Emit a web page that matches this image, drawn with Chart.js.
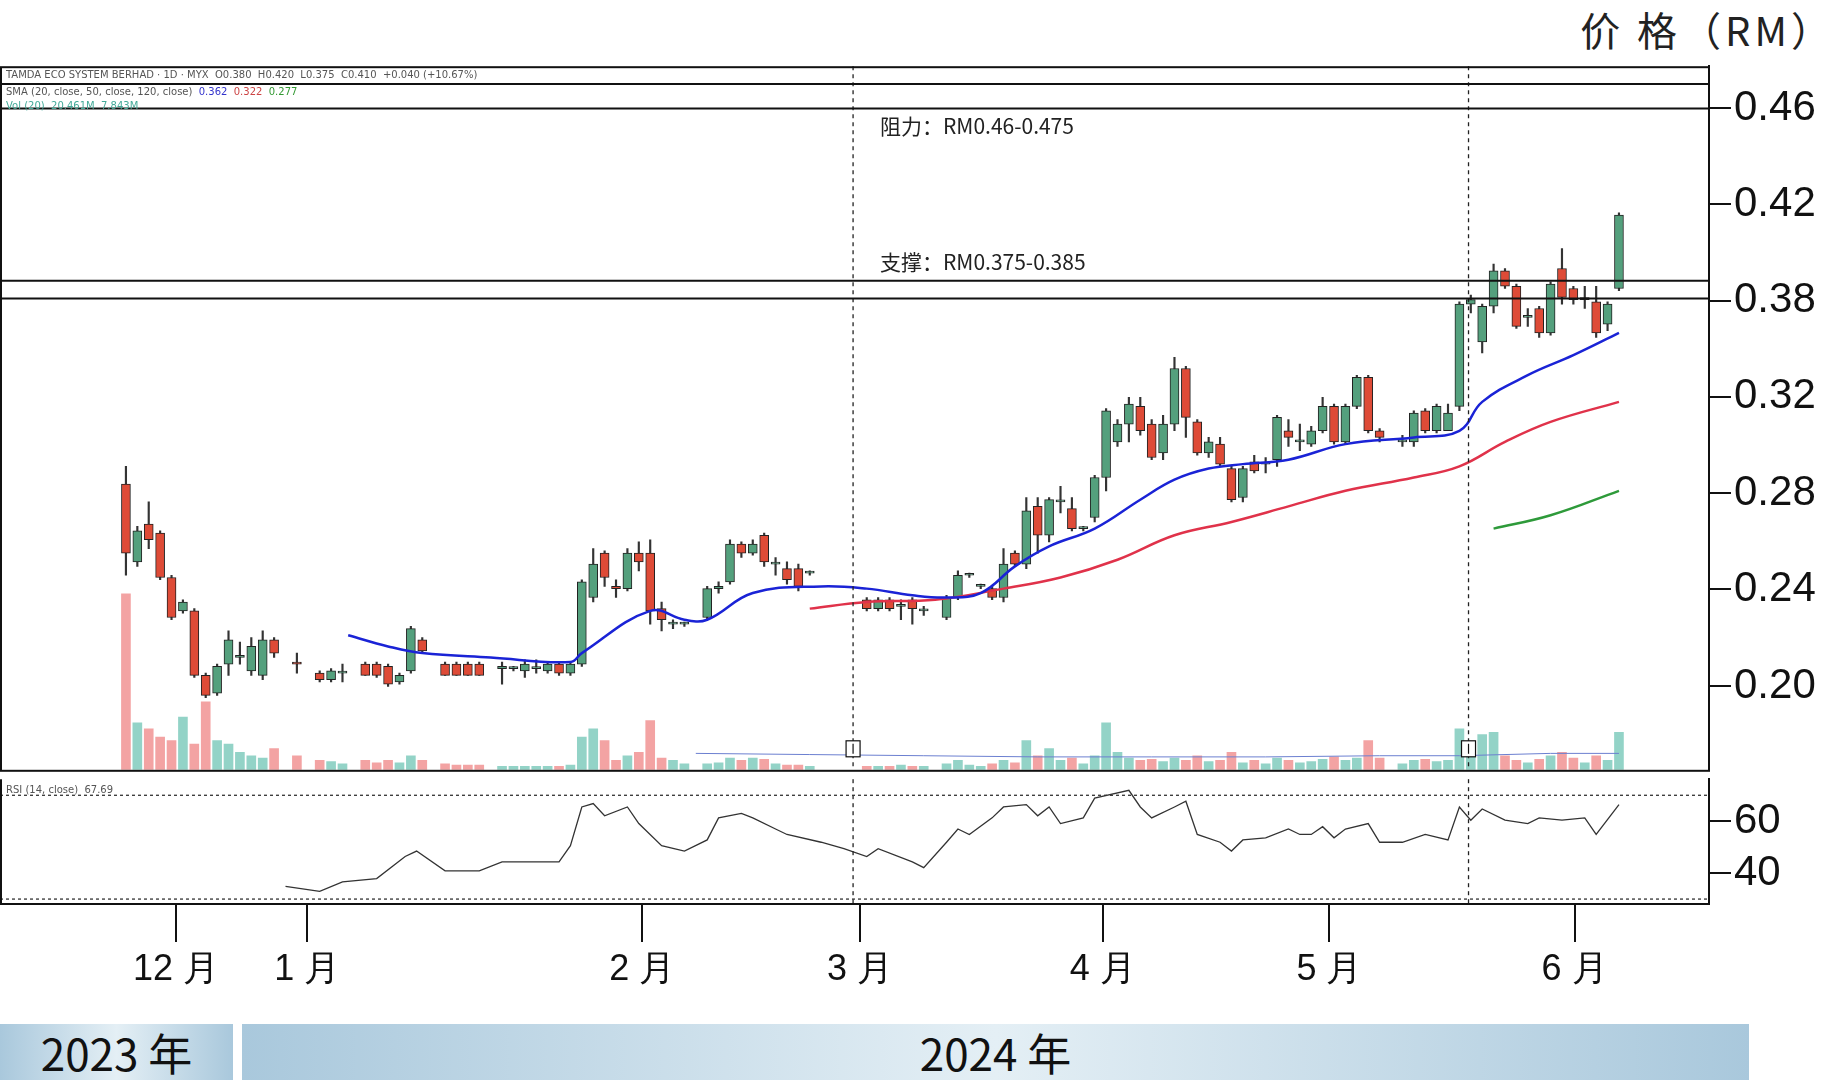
<!DOCTYPE html>
<html lang="zh">
<head>
<meta charset="UTF-8" />
<title>价格走势</title>
<script src="https://cdn.jsdelivr.net/npm/chart.js"></script>
<style>
  body { margin: 0; background: white; width: 1845px; height: 1080px; overflow: hidden; position: relative; font-family: "Noto Sans CJK SC", "Noto Sans", sans-serif; }
  #priceBox { position: absolute; left: 0; top: 38px; width: 1845px; height: 760px; }
  #rsiBox { position: absolute; left: 0; top: 751px; width: 1845px; height: 260px; }
  .unit { position: absolute; right: 10px; top: 0; font-size: 40px; color: #222; letter-spacing: 4px; }
  .year { position: absolute; top: 1024px; height: 56px; font-size: 44px; color: #111; text-align: center; line-height: 56px;
          background: linear-gradient(90deg, #a9c8dc, #e4eff5 50%, #a9c8dc); }
  .hdr { position: absolute; left: 6px; font-size: 10px; color: #555; white-space: nowrap; font-family: "DejaVu Sans", sans-serif; }
</style>
</head>
<body>
<div class="unit">价 格（RM）</div>
<div id="priceBox"><canvas id="price"></canvas></div>
<div id="rsiBox"><canvas id="rsi"></canvas></div>
<div class="hdr" style="top:69px">TAMDA ECO SYSTEM BERHAD · 1D · MYX &nbsp;O0.380 &nbsp;H0.420 &nbsp;L0.375 &nbsp;C0.410 &nbsp;+0.040 (+10.67%)</div>
<div class="hdr" style="top:86px">SMA (20, close, 50, close, 120, close) &nbsp;<span style="color:#33c">0.362</span> &nbsp;<span style="color:#c44">0.322</span> &nbsp;<span style="color:#393">0.277</span></div>
<div class="hdr" style="top:100px;color:#4a9">Vol (20) &nbsp;20.461M &nbsp;7.843M</div>
<div class="year" style="left:0;width:233px">2023 年</div>
<div class="year" style="left:242px;width:1507px">2024 年</div>

<script>
// ---- data ----
const slots = [0,1,2,3,4,5,6,7,8,9,10,11,12,13,15,17,18,19,21,22,23,24,25,26,28,29,30,31,33,34,35,36,37,38,39,
  40,41,42,43,44,45,46,47,48,49,51,52,53,54,55,56,57,58,59,60,65,66,67,68,69,70,72,73,74,75,76,77,78,79,80,81,82,83,84,
  85,86,87,88,89,90,91,92,93,94,95,96,97,98,99,100,101,102,103,104,105,106,107,108,109,110,112,113,114,115,116,
  117,118,119,120,121,122,123,124,125,126,127,128,129,130,131];
const opens = [.291,.256,.273,.269,.249,.234,.234,.205,.197,.210,.213,.207,.205,.221,.211,.206,.203,.206,.210,.210,.209,.202,.207,.221,.210,.210,.210,.210,.208,.208,.207,.208,.207,.210,.206,
  .210,.240,.260,.245,.244,.260,.260,.235,.228,.228,.231,.244,.247,.264,.260,.268,.255,.253,.253,.251,.239,.235,.239,.236,.239,.234,.231,.240,.250,.245,.244,.240,.260,.255,.281,.268,.283,.280,.271,
  .276,.294,.310,.318,.326,.318,.305,.318,.343,.319,.305,.309,.298,.285,.301,.300,.302,.315,.310,.309,.315,.326,.310,.326,.339,.315,.310,.310,.324,.315,.315,
  .326,.372,.355,.371,.387,.380,.366,.370,.359,.388,.379,.374,.373,.363,.379];
const closes = [.260,.270,.266,.249,.231,.238,.205,.196,.209,.221,.214,.218,.221,.215,.210,.203,.207,.206,.205,.205,.201,.205,.226,.216,.205,.205,.205,.205,.209,.208,.210,.208,.210,.206,.210,
  .247,.255,.249,.244,.260,.256,.234,.230,.228,.228,.244,.245,.264,.260,.264,.256,.255,.248,.245,.251,.235,.239,.235,.236,.235,.234,.240,.250,.250,.245,.240,.255,.255,.279,.268,.284,.283,.271,.271,
  .294,.324,.318,.327,.315,.303,.318,.343,.321,.305,.310,.300,.284,.298,.297,.300,.321,.312,.310,.315,.326,.310,.326,.339,.315,.312,.310,.323,.315,.326,.323,
  .372,.374,.371,.387,.380,.362,.366,.359,.381,.375,.374,.374,.359,.372,.412];
const highs = [.299,.272,.283,.270,.250,.239,.235,.206,.210,.225,.220,.222,.225,.222,.215,.207,.208,.210,.211,.211,.210,.206,.227,.222,.211,.211,.211,.211,.211,.209,.212,.212,.211,.211,.211,
  .248,.262,.261,.248,.262,.265,.266,.238,.230,.229,.245,.247,.266,.265,.266,.269,.258,.256,.255,.252,.240,.240,.240,.239,.240,.236,.241,.252,.251,.246,.245,.262,.261,.285,.285,.285,.290,.285,.272,
  .295,.325,.320,.330,.330,.320,.322,.348,.344,.320,.312,.312,.299,.299,.304,.303,.322,.320,.318,.317,.330,.327,.327,.340,.340,.316,.313,.324,.325,.327,.327,
  .373,.376,.372,.390,.388,.381,.370,.371,.382,.397,.380,.380,.380,.373,.413];
const lows = [.250,.254,.262,.248,.230,.233,.204,.195,.196,.205,.210,.205,.203,.213,.206,.202,.202,.202,.205,.204,.200,.201,.206,.215,.205,.205,.205,.205,.201,.207,.204,.206,.206,.205,.205,
  .209,.238,.245,.240,.243,.252,.228,.225,.226,.227,.230,.242,.246,.258,.259,.254,.250,.246,.243,.250,.234,.234,.234,.230,.228,.232,.230,.239,.249,.244,.239,.238,.254,.253,.260,.265,.278,.270,.270,
  .274,.288,.308,.310,.313,.302,.302,.315,.312,.304,.303,.299,.283,.283,.296,.296,.299,.308,.306,.308,.314,.309,.309,.325,.314,.310,.308,.308,.314,.314,.320,
  .324,.368,.350,.368,.379,.361,.362,.357,.358,.372,.372,.370,.357,.360,.378];
const volumes = [15,4,3.5,2.8,2.5,4.5,2.2,5.8,2.5,2.2,1.5,1.2,1,1.8,1.2,.8,.7,.5,.8,.6,.8,.6,1.2,.8,.5,.4,.4,.4,.3,.3,.3,.3,.3,.3,.4,
  2.8,3.5,2.5,.8,1.2,1.5,4.2,1,.8,.5,.5,.6,1,.8,1,.9,.5,.4,.4,.3,.3,.3,.3,.4,.3,.3,.5,.8,.4,.3,.5,.8,.6,2.5,1.2,1.8,.8,1,.5,
  1.2,4,1.5,1,.8,.9,.7,1,.8,1.2,.7,.8,1.5,.6,.8,.5,1,.8,.6,.7,.9,1.1,.8,1,2.5,1,.5,.8,.9,.7,.8,
  3.5,1.5,3,3.2,1.2,.8,.6,.9,1.2,1.5,1,.6,1.2,.8,3.2];
const volMaX = [50,60,70,80,90,100,110,117,125,131];
const volMa  = [1.4,1.3,1.2,1.1,1.1,1.1,1.2,1.2,1.4,1.4];
const ma20X = [19.5,23,26,32,39,40,46,49,51,55,61,65,69,72,75,78,81,85,89,92,95,98,102,107,113,117,119,123,127,131];
const ma20  = [.223,.218,.215,.213,.211,.215,.234,.230,.230,.242,.245,.244,.241,.240,.242,.254,.263,.271,.284,.293,.298,.300,.302,.309,.312,.315,.328,.340,.349,.359];
const ma50X = [60,65,71,77,82,87,92,97,102,107,113,117,121,125,131];
const ma50  = [.235,.238,.239,.244,.249,.257,.268,.274,.281,.288,.294,.299,.310,.319,.328];
const ma120X = [120,125,131];
const ma120  = [.271,.277,.288];
const rsiX = [14,17,19,22,24.5,25.5,28,31,33,38,39,40,41,42,44,45,47,49,51,52,54,55,57,58,61,63,65,66,69,70,72,73,74,76,77,79,80,81,82,84,85,88,89,90,92,93,94,96,97,98,100,102,103,104,105,106,107,109,110,112,114,116,117,118,119,121,123,124,126,128,129,131];
const rsi  = [34.9,33,36.6,37.9,46.4,48.5,40.9,40.9,44.3,44.3,50.6,65.5,66.8,62.1,65.5,59.1,50.6,48.5,52.8,61.3,63,61.3,57,54.9,51.9,49.4,46.4,49.4,44.3,42.1,51.9,57,54.9,61.3,65.5,66.4,62.1,65.5,59.1,61.3,68.9,71.9,65.5,61.3,65.5,67.7,54.9,51.9,48.5,52.8,53.6,57,54.9,54.9,57.9,53.6,57,59.1,51.9,51.9,54.9,52.8,65.5,60.4,64.7,60.4,59.1,61.3,60.4,61.3,54.9,66.4];
const monthTicks = [4.4,15.9,45.3,64.4,85.7,105.6,127.1];
const monthLabels = ['12 月','1 月','2 月','3 月','4 月','5 月','6 月'];
// tick positions as drawn in the picture (evenly spaced), with the labels printed there
const priceTicks = [0.20,0.2438,0.287,0.3303,0.3735,0.4168,0.46];
const priceLabels = ['0.20','0.24','0.28','0.32','0.38','0.42','0.46'];
const levelLines = [0.471,0.46,0.3825,0.3745];
const markerSlots = [63.8,117.8];

const XMIN = -11.05, XMAX = 138.9, AXISW = 136;
const GREEN = 'rgb(84,160,125)', RED = 'rgb(222,75,55)';
const isUp = slots.map((s, i) => closes[i] >= opens[i]);
const pts = (xs, ys) => xs.map((x, i) => ({ x: x, y: ys[i] }));

const dashPlugin = {
  id: 'dash',
  afterDatasetsDraw(chart, args, opts) {
    const ctx = chart.ctx, a = chart.chartArea, xs = chart.scales.x;
    ctx.save();
    ctx.strokeStyle = '#222'; ctx.lineWidth = 1.3; ctx.setLineDash([4, 4]);
    markerSlots.forEach(s => {
      const px = xs.getPixelForValue(s);
      ctx.beginPath(); ctx.moveTo(px, a.top); ctx.lineTo(px, a.bottom); ctx.stroke();
    });
    ctx.setLineDash([]);
    const ys = chart.scales.y;
    if (opts.price) {
      ctx.lineWidth = 2; ctx.strokeStyle = '#111';
      levelLines.forEach(v => {
        const py = ys.getPixelForValue(v);
        ctx.beginPath(); ctx.moveTo(a.left, py); ctx.lineTo(a.right, py); ctx.stroke();
      });
      ctx.lineWidth = 1.2;
      markerSlots.forEach(s => {
        const px = xs.getPixelForValue(s);
        ctx.fillStyle = 'white';
        ctx.fillRect(px - 7, a.bottom - 29, 14, 16); ctx.strokeRect(px - 7, a.bottom - 29, 14, 16);
        ctx.beginPath(); ctx.moveTo(px, a.bottom - 26); ctx.lineTo(px, a.bottom - 16); ctx.stroke();
      });
      ctx.fillStyle = '#222'; ctx.font = '21px "Noto Sans CJK SC"'; ctx.textBaseline = 'middle';
      ctx.fillText('阻力：RM0.46-0.475', 880, ys.getPixelForValue(0.452));
      ctx.fillText('支撑：RM0.375-0.385', 880, ys.getPixelForValue(0.391));
      ctx.strokeStyle = '#111'; ctx.lineWidth = 2;
      ctx.strokeRect(a.left + 1, a.top + 1, a.right - a.left - 1, a.bottom - a.top);
    } else {
      ctx.strokeStyle = '#333'; ctx.lineWidth = 1.3; ctx.setLineDash([3, 3]);
      [70, 30].forEach(v => {
        const py = ys.getPixelForValue(v);
        ctx.beginPath(); ctx.moveTo(a.left, py); ctx.lineTo(a.right, py); ctx.stroke();
      });
      ctx.setLineDash([]);
      ctx.strokeStyle = '#111'; ctx.lineWidth = 2;
      ctx.beginPath(); ctx.moveTo(a.left + 1, a.top); ctx.lineTo(a.left + 1, a.bottom);
      ctx.lineTo(a.right, a.bottom); ctx.lineTo(a.right, a.top); ctx.stroke();
      ctx.fillStyle = '#555'; ctx.font = '10px "DejaVu Sans"'; ctx.textBaseline = 'top';
      ctx.fillText('RSI (14, close)  67.69', a.left + 6, a.top + 6);
    }
    ctx.restore();
  }
};

const xScale = (show) => ({
  type: 'linear', min: XMIN, max: XMAX, offset: false,
  afterBuildTicks: s => { s.ticks = monthTicks.map(v => ({ value: v })); },
  afterFit: s => { if (show) s.height = 107; },
  display: show,
  grid: { drawOnChartArea: false, drawTicks: true, tickLength: 38, color: '#111', lineWidth: 2, offset: false },
  border: { display: false },
  ticks: { autoSkip: false, maxRotation: 0, padding: 6, color: '#111', font: { size: 36, family: 'Liberation Sans' },
           callback: (v, i) => monthLabels[i] }
});

const yRight = (min, max, ticks, labels) => ({
  position: 'right', min: min, max: max,
  afterBuildTicks: s => { s.ticks = ticks.map(v => ({ value: v })); },
  afterFit: s => { s.width = AXISW; },
  grid: { drawOnChartArea: false, tickLength: 22, color: '#111', lineWidth: 2 },
  border: { display: true, color: '#111', width: 2 },
  ticks: { padding: 3, color: '#111', font: { size: 42, family: 'Liberation Sans' }, callback: (v, i) => labels[i] }
});

new Chart(document.getElementById('price'), {
  data: {
    datasets: [
      { type: 'bar', label: 'wick', data: slots.map((s, i) => ({ x: s, y: [lows[i], highs[i]] })),
        backgroundColor: '#333', barThickness: 1.5, grouped: false, order: 3 },
      { type: 'bar', label: 'body', data: slots.map((s, i) => ({ x: s, y: [opens[i], closes[i]] })),
        backgroundColor: isUp.map(u => u ? GREEN : RED), borderColor: '#222', borderWidth: 1, borderSkipped: false,
        minBarLength: 2, barThickness: 9, grouped: false, order: 2 },
      { type: 'bar', label: 'vol', yAxisID: 'v', data: pts(slots, volumes),
        backgroundColor: isUp.map(u => u ? 'rgba(120,200,185,0.8)' : 'rgba(240,140,140,0.8)'),
        barThickness: 9, grouped: false, order: 4 },
      { type: 'line', label: 'volma', yAxisID: 'v', data: pts(volMaX, volMa), borderColor: '#6b7fd0', borderWidth: 1, pointRadius: 0, order: 1 },
      { type: 'line', label: 'MA20', data: pts(ma20X, ma20), borderColor: '#1a23d6', borderWidth: 2.5, pointRadius: 0, tension: 0.4, order: 1 },
      { type: 'line', label: 'MA50', data: pts(ma50X, ma50), borderColor: '#e0324a', borderWidth: 2.5, pointRadius: 0, tension: 0.4, order: 1 },
      { type: 'line', label: 'MA120', data: pts(ma120X, ma120), borderColor: '#2e9a3a', borderWidth: 2.5, pointRadius: 0, tension: 0.4, order: 1 }
    ]
  },
  options: {
    responsive: true, maintainAspectRatio: false, animation: false,
    layout: { padding: 0 },
    plugins: { legend: { display: false }, tooltip: { enabled: false }, dash: { price: true } },
    scales: {
      x: xScale(false),
      y: yRight(0.1625, 0.479, priceTicks, priceLabels),
      v: { display: false, min: 0, max: 60 }
    }
  },
  plugins: [dashPlugin]
});

new Chart(document.getElementById('rsi'), {
  type: 'line',
  data: { datasets: [{ data: pts(rsiX, rsi), borderColor: '#333', borderWidth: 1.3, pointRadius: 0 }] },
  options: {
    responsive: true, maintainAspectRatio: false, animation: false,
    layout: { padding: 0 },
    plugins: { legend: { display: false }, tooltip: { enabled: false }, dash: { price: false } },
    scales: {
      x: xScale(true),
      y: yRight(28.1, 76.2, [40, 60], ['40', '60'])
    }
  },
  plugins: [dashPlugin]
});
</script>
</body>
</html>
